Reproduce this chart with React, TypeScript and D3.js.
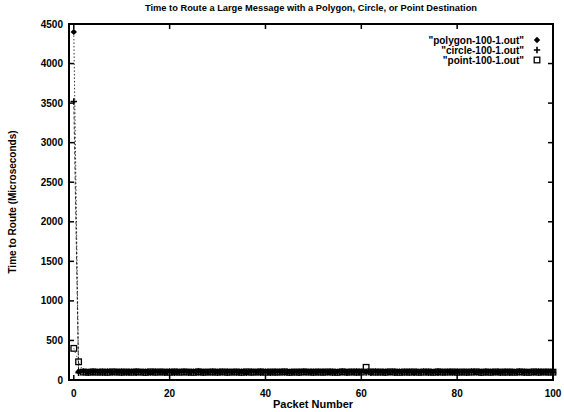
import React from "react";
import * as d3 from "d3";

const TITLE = "Time to Route a Large Message with a Polygon, Circle, or Point Destination";
const X_LABEL = "Packet Number";
const Y_LABEL = "Time to Route (Microseconds)";
const X_TICKS = [0, 20, 40, 60, 80, 100];
const Y_TICKS = [0, 500, 1000, 1500, 2000, 2500, 3000, 3500, 4000, 4500];
const SERIES_NAMES = ['"polygon-100-1.out"', '"circle-100-1.out"', '"point-100-1.out"'];

const polygonValues = [
  4400, 108, 112, 104, 110, 106, 109, 111, 105, 107,
  110, 104, 108, 112, 106, 109, 105, 111, 107, 104,
  110, 108, 106, 112, 105, 109, 115, 107, 104, 110,
  106, 108, 111, 105, 109, 107, 104, 112, 106, 110,
  108, 105, 111, 107, 109, 104, 106, 110, 112, 105,
  108, 107, 111, 104, 109, 106, 110, 105, 108, 112,
  107, 109, 104, 111, 106, 108, 105, 110, 107, 109,
  112, 104, 106, 111, 108, 105, 110, 107, 109, 104,
  112, 106, 108, 111, 105, 107, 110, 109, 104, 106,
  112, 108, 105, 111, 107, 109, 106, 110, 104, 108,
  105,
];

const circleValues = [
  3520, 92, 96, 90, 94, 98, 91, 95, 93, 97,
  90, 94, 96, 92, 98, 91, 95, 93, 97, 90,
  94, 92, 96, 98, 91, 95, 93, 90, 97, 94,
  92, 96, 91, 98, 95, 93, 90, 94, 97, 92,
  96, 91, 95, 98, 93, 90, 94, 92, 97, 96,
  91, 95, 93, 98, 90, 94, 96, 92, 97, 91,
  95, 93, 90, 98, 94, 92, 96, 91, 97, 95,
  93, 90, 94, 98, 92, 96, 91, 95, 97, 93,
  90, 94, 92, 98, 96, 91, 95, 93, 97, 90,
  94, 92, 96, 98, 91, 95, 93, 90, 97, 94,
  92,
];

const pointValues = [
  400, 230, 100, 98, 102, 99, 101, 97, 103, 100,
  99, 101, 98, 102, 100, 97, 103, 99, 101, 100,
  98, 102, 99, 101, 100, 97, 103, 98, 100, 101,
  99, 102, 98, 100, 101, 97, 103, 99, 100, 102,
  98, 101, 99, 100, 103, 97, 101, 98, 102, 100,
  99, 101, 98, 102, 100, 97, 103, 99, 101, 100,
  100, 160, 102, 99, 101, 98, 103, 100, 97, 101,
  99, 102, 98, 100, 101, 97, 103, 99, 100, 102,
  98, 101, 99, 100, 103, 97, 101, 98, 102, 100,
  99, 101, 98, 102, 100, 97, 103, 99, 101, 100,
  99,
];

const W = 564;
const H = 412;
const M = { left: 69, right: 553, top: 24, bottom: 380 };
const FONT = "'Liberation Sans', Arial, Helvetica, sans-serif";

export default function App() {
  const x = d3.scaleLinear().domain([-1, 100]).range([M.left, M.right]);
  const y = d3.scaleLinear().domain([0, 4500]).range([M.bottom, M.top]);
  const line = d3
    .line<number>()
    .x((_, i) => x(i))
    .y((d) => y(d));

  const diamond = (cx: number, cy: number, key: string) => (
    <path key={key} d={`M${cx},${cy - 3.2}L${cx + 3.2},${cy}L${cx},${cy + 3.2}L${cx - 3.2},${cy}Z`} fill="#000" />
  );
  const plus = (cx: number, cy: number, key: string) => (
    <path key={key} d={`M${cx - 3.2},${cy}H${cx + 3.2}M${cx},${cy - 3.2}V${cy + 3.2}`} stroke="#000" strokeWidth={1.6} fill="none" />
  );
  const square = (cx: number, cy: number, key: string) => (
    <rect key={key} x={cx - 2.8} y={cy - 2.8} width={5.6} height={5.6} fill="none" stroke="#000" strokeWidth={1.3} />
  );

  const tickLen = 5;
  const legendY = [40, 50, 60];
  const legendTextX = 524;
  const legendMarkX = 537;
  const markers = [diamond, plus, square];
  const series = [polygonValues, circleValues, pointValues];
  const dashes = ["1.5,2", "3,2", "1,3"];

  return (
    <svg width={W} height={H} style={{ position: "absolute", left: 0, top: 0, background: "#fff" }} fontFamily={FONT}>
      <rect x={0} y={0} width={W} height={H} fill="#fff" />
      <rect x={M.left} y={M.top} width={M.right - M.left} height={M.bottom - M.top} fill="none" stroke="#000" strokeWidth={2} />
      {Y_TICKS.map((t) => (
        <g key={"y" + t}>
          <line x1={M.left} x2={M.left + tickLen} y1={y(t)} y2={y(t)} stroke="#000" strokeWidth={1.5} />
          <line x1={M.right} x2={M.right - tickLen} y1={y(t)} y2={y(t)} stroke="#000" strokeWidth={1.5} />
          <text x={M.left - 6} y={y(t) + 3.5} textAnchor="end" fontSize={10} fontWeight="bold">{t}</text>
        </g>
      ))}
      {X_TICKS.map((t) => (
        <g key={"x" + t}>
          <line x1={x(t)} x2={x(t)} y1={M.bottom} y2={M.bottom - tickLen} stroke="#000" strokeWidth={1.5} />
          <line x1={x(t)} x2={x(t)} y1={M.top} y2={M.top + tickLen} stroke="#000" strokeWidth={1.5} />
          <text x={x(t)} y={M.bottom + 17} textAnchor="middle" fontSize={10} fontWeight="bold">{t}</text>
        </g>
      ))}
      {series.map((vals, si) => (
        <path key={"l" + si} d={line(vals) || ""} fill="none" stroke="#000" strokeWidth={0.8} strokeDasharray={dashes[si]} />
      ))}
      {series.map((vals, si) => (
        <g key={"m" + si}>{vals.map((v, i) => markers[si](x(i), y(v), `${si}-${i}`))}</g>
      ))}
      {SERIES_NAMES.map((n, i) => (
        <g key={"lg" + i}>
          <text x={legendTextX} y={legendY[i] + 3.5} textAnchor="end" fontSize={10} fontWeight="bold">{n}</text>
          {markers[i](legendMarkX, legendY[i], "lgm" + i)}
        </g>
      ))}
      <text x={311} y={11} textAnchor="middle" fontSize={9.3} fontWeight="bold">{TITLE}</text>
      <text x={313} y={408} textAnchor="middle" fontSize={11} fontWeight="bold">{X_LABEL}</text>
      <text transform={`translate(16,${(M.top + M.bottom) / 2}) rotate(-90)`} textAnchor="middle" fontSize={10} fontWeight="bold">{Y_LABEL}</text>
    </svg>
  );
}
